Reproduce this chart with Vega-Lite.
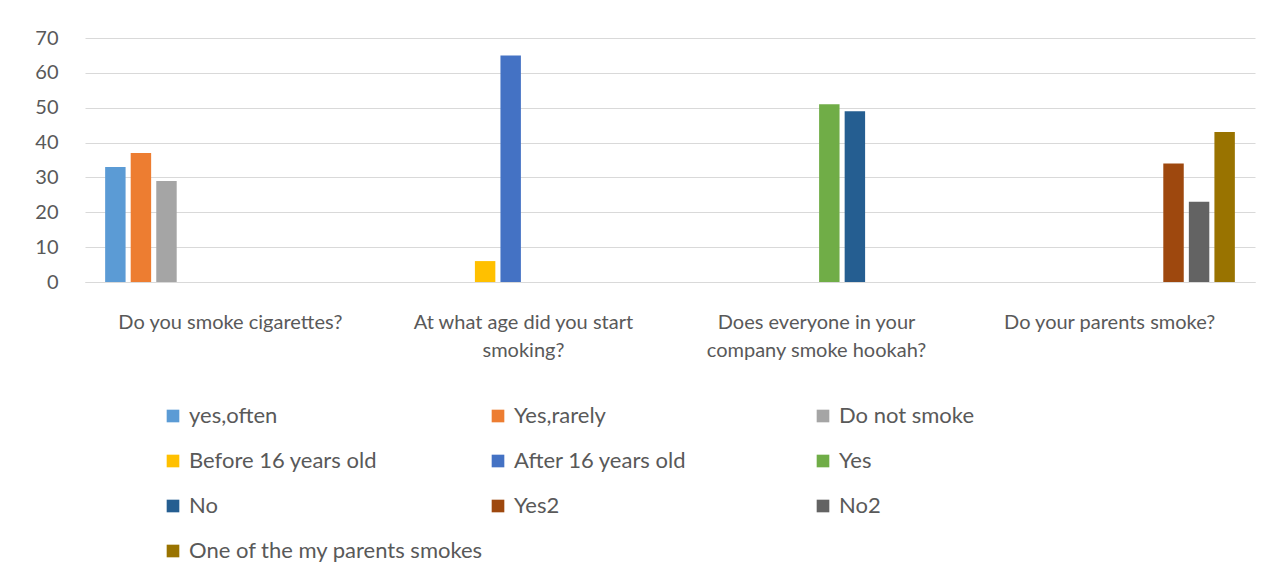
{
  "$schema": "https://vega.github.io/schema/vega-lite/v6.json",
  "width": 1170,
  "height": 244,
  "autosize": {"type": "none"},
  "padding": {"left": 85, "top": 38, "right": 30, "bottom": 296},
  "background": "white",
  "data": {
    "values": [
      {"question": "Do you smoke cigarettes?", "answer": "yes,often", "value": 33},
      {"question": "Do you smoke cigarettes?", "answer": "Yes,rarely", "value": 37},
      {"question": "Do you smoke cigarettes?", "answer": "Do not smoke", "value": 29},
      {"question": "At what age did you start smoking?", "answer": "Before 16 years old", "value": 6},
      {"question": "At what age did you start smoking?", "answer": "After 16 years old", "value": 65},
      {"question": "Does everyone in your company smoke hookah?", "answer": "Yes", "value": 51},
      {"question": "Does everyone in your company smoke hookah?", "answer": "No", "value": 49},
      {"question": "Do your parents smoke?", "answer": "Yes2", "value": 34},
      {"question": "Do your parents smoke?", "answer": "No2", "value": 23},
      {"question": "Do your parents smoke?", "answer": "One of the my parents smokes", "value": 43}
    ]
  },
  "mark": {"type": "bar"},
  "encoding": {
    "x": {
      "field": "question",
      "type": "nominal",
      "sort": null,
      "scale": {"domain": ["Do you smoke cigarettes?", "At what age did you start smoking?", "Does everyone in your company smoke hookah?", "Do your parents smoke?"], "paddingInner": 0.128, "paddingOuter": 0.06},
      "axis": {
        "title": null,
        "labelAngle": 0,
        "ticks": false,
        "domain": true,
        "domainColor": "#d9d9d9",
        "domainWidth": 1,
        "labelFont": "Lato",
        "labelFontSize": 20,
        "labelColor": "#595959",
        "labelPadding": 30,
        "labelLineHeight": 28,
        "labelLimit": 400,
        "labelExpr": "datum.value == 'At what age did you start smoking?' ? ['At what age did you start', 'smoking?'] : datum.value == 'Does everyone in your company smoke hookah?' ? ['Does everyone in your', 'company smoke hookah?'] : datum.value"
      }
    },
    "xOffset": {
      "field": "answer",
      "type": "nominal",
      "scale": {"domain": ["yes,often", "Yes,rarely", "Do not smoke", "Before 16 years old", "After 16 years old", "Yes", "No", "Yes2", "No2", "One of the my parents smokes"], "paddingInner": 0.2, "paddingOuter": 0.1}
    },
    "y": {
      "field": "value",
      "type": "quantitative",
      "scale": {"domain": [0, 70]},
      "axis": {
        "title": null,
        "values": [0, 10, 20, 30, 40, 50, 60, 70],
        "ticks": false,
        "domain": false,
        "grid": true,
        "gridColor": "#d9d9d9",
        "gridWidth": 1,
        "labelFont": "Lato",
        "labelFontSize": 20,
        "labelColor": "#595959",
        "labelPadding": 27
      }
    },
    "color": {
      "field": "answer",
      "type": "nominal",
      "sort": null,
      "scale": {
        "domain": ["yes,often", "Yes,rarely", "Do not smoke", "Before 16 years old", "After 16 years old", "Yes", "No", "Yes2", "No2", "One of the my parents smokes"],
        "range": ["#5B9BD5", "#ED7D31", "#A5A5A5", "#FFC000", "#4472C4", "#70AD47", "#255E91", "#9E480E", "#636363", "#997300"]
      },
      "legend": {
        "title": null,
        "orient": "none",
        "legendX": 77,
        "legendY": 367,
        "direction": "horizontal",
        "columns": 3,
        "gridAlign": "all",
        "columnPadding": 3,
        "rowPadding": 23,
        "symbolType": "square",
        "symbolSize": 160,
        "symbolStrokeWidth": 0,
        "labelFont": "Lato",
        "labelFontSize": 22,
        "labelColor": "#595959",
        "labelOffset": 5,
        "labelLimit": 400
      }
    }
  },
  "config": {
    "view": {"stroke": null}
  }
}
